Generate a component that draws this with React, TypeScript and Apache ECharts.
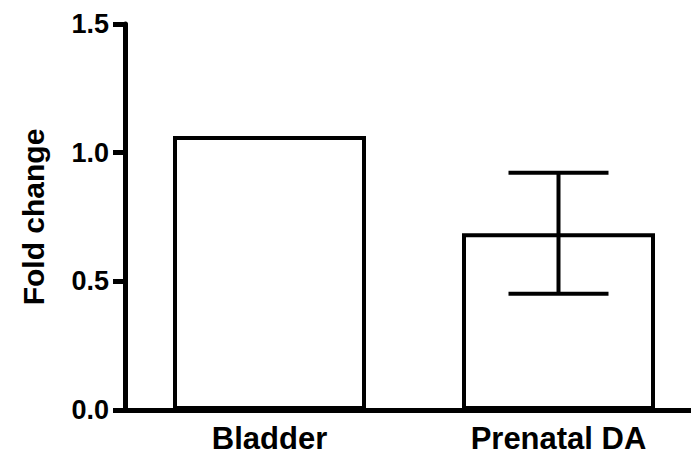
import React, { useEffect, useRef } from "react";
import * as echarts from "echarts";

const categories = ["Bladder", "Prenatal DA"];
const foldChange = [1.065, 0.687];
const errorSem = [0, 0.235];
const yTicks = [0, 0.5, 1.0, 1.5];

const FONT = "'Liberation Sans', Arial, Helvetica, sans-serif";

export default function App() {
  const ref = useRef<HTMLDivElement>(null);
  useEffect(() => {
    if (!ref.current) return;
    const chart = echarts.init(ref.current, undefined, { renderer: "svg" });
    const errData = categories.map((_, i) => [i, foldChange[i], errorSem[i]]);
    chart.setOption({
      animation: false,
      backgroundColor: "#ffffff",
      grid: { left: 125, top: 24, width: 578, height: 386, containLabel: false },
      xAxis: {
        type: "category",
        data: categories,
        axisLine: { lineStyle: { color: "#000", width: 5 } },
        axisTick: { alignWithLabel: true, length: 12, lineStyle: { color: "#000", width: 5 } },
        axisLabel: { color: "#000", fontFamily: FONT, fontWeight: "bold", fontSize: 31, margin: 13 },
        splitLine: { show: false },
      },
      yAxis: {
        type: "value",
        min: yTicks[0],
        max: yTicks[yTicks.length - 1],
        interval: 0.5,
        name: "Fold change",
        nameLocation: "middle",
        nameGap: 77,
        nameTextStyle: { color: "#000", fontFamily: FONT, fontWeight: "bold", fontSize: 30 },
        axisLine: { show: true, lineStyle: { color: "#000", width: 5 } },
        axisTick: { show: true, length: 12, lineStyle: { color: "#000", width: 5 } },
        axisLabel: {
          color: "#000",
          fontFamily: FONT,
          fontWeight: "bold",
          fontSize: 27,
          margin: 16,
          formatter: (v: number) => v.toFixed(1),
        },
        splitLine: { show: false },
      },
      series: [
        {
          type: "bar",
          data: foldChange,
          barWidth: 193,
          itemStyle: { color: "#ffffff", borderColor: "#000", borderWidth: 4 },
          z: 2,
        },
        {
          type: "custom",
          data: errData,
          encode: { x: 0, y: 1 },
          z: 3,
          renderItem: (params: any, api: any) => {
            const x = api.value(0);
            const m = api.value(1);
            const e = api.value(2);
            if (!e) return null;
            const top = api.coord([x, m + e]);
            const bot = api.coord([x, m - e]);
            const hw = 50;
            const style = { stroke: "#000", lineWidth: 4 };
            return {
              type: "group",
              children: [
                { type: "line", shape: { x1: top[0], y1: top[1], x2: bot[0], y2: bot[1] }, style },
                { type: "line", shape: { x1: top[0] - hw, y1: top[1], x2: top[0] + hw, y2: top[1] }, style },
                { type: "line", shape: { x1: bot[0] - hw, y1: bot[1], x2: bot[0] + hw, y2: bot[1] }, style },
              ],
            };
          },
        },
      ],
    });
    return () => chart.dispose();
  }, []);
  return (
    <div
      style={{ position: "fixed", left: 0, top: 0, width: 691, height: 460, overflow: "hidden", background: "#fff" }}
    >
      <div ref={ref} style={{ width: 720, height: 460 }} />
    </div>
  );
}
